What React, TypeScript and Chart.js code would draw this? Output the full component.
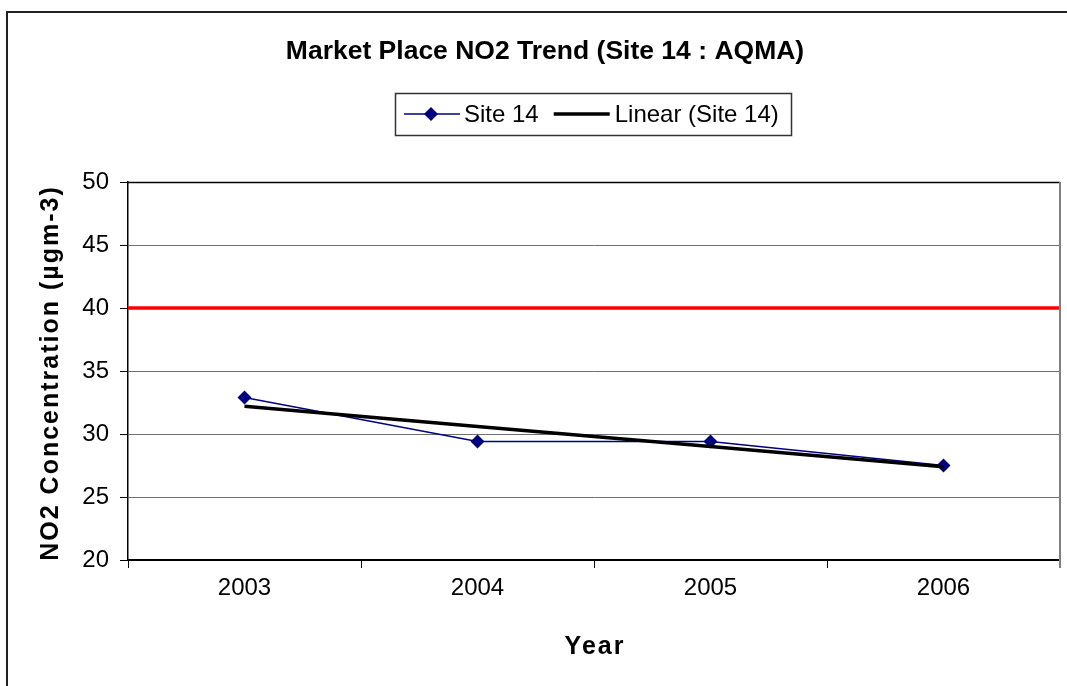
import React, { useEffect, useRef } from 'react';
import { Chart, registerables } from 'chart.js';

Chart.register(...registerables);

const years = ['2003', '2004', '2005', '2006'];
const site14 = [32.9, 29.4, 29.4, 27.5];
const linearTrend = [32.2, 30.6, 29.0, 27.4];
const limitValue = 40;
const yMin = 20;
const yMax = 50;
const yStep = 5;
const chartTitle = 'Market Place NO2 Trend (Site 14 : AQMA)';
const xTitle = 'Year';
const yTitle = 'NO2 Concentration (µgm-3)';
const legendLabels = ['Site 14', 'Linear (Site 14)'];

const FONT = '"Liberation Sans", Arial, sans-serif';
const NAVY = '#000080';

function drawDiamond(ctx: CanvasRenderingContext2D, x: number, y: number, r: number) {
  ctx.beginPath();
  ctx.moveTo(x, y - r);
  ctx.lineTo(x + r, y);
  ctx.lineTo(x, y + r);
  ctx.lineTo(x - r, y);
  ctx.closePath();
  ctx.fill();
}

const decorPlugin = {
  id: 'decor',
  beforeDraw(chart: any) {
    const ctx = chart.ctx as CanvasRenderingContext2D;
    ctx.save();
    ctx.fillStyle = '#ffffff';
    ctx.fillRect(0, 0, chart.width, chart.height);
    ctx.strokeStyle = '#222222';
    ctx.lineWidth = 2;
    ctx.strokeRect(7, 12, 1300, 1300);
    ctx.restore();
  },
  beforeDatasetsDraw(chart: any) {
    const ctx = chart.ctx as CanvasRenderingContext2D;
    const { left, right, top } = chart.chartArea;
    const y = chart.scales.y.getPixelForValue(limitValue);
    ctx.save();
    ctx.strokeStyle = '#ff0000';
    ctx.lineWidth = 3.5;
    ctx.beginPath();
    ctx.moveTo(left, y);
    ctx.lineTo(right, y);
    ctx.stroke();
    ctx.strokeStyle = '#000000';
    ctx.lineWidth = 1.5;
    ctx.beginPath();
    ctx.moveTo(left, top + 0.5);
    ctx.lineTo(right, top + 0.5);
    ctx.stroke();
    ctx.strokeStyle = '#808080';
    ctx.lineWidth = 2;
    ctx.beginPath();
    ctx.moveTo(right, top);
    ctx.lineTo(right, chart.chartArea.bottom + 8);
    ctx.stroke();
    ctx.restore();
  },
  afterDraw(chart: any) {
    const ctx = chart.ctx as CanvasRenderingContext2D;
    const { left, right, top, bottom } = chart.chartArea;
    ctx.save();
    ctx.fillStyle = '#000000';
    // Title
    ctx.font = `bold 26.5px ${FONT}`;
    ctx.textAlign = 'center';
    ctx.textBaseline = 'middle';
    ctx.fillText(chartTitle, 545, 52);

    // Axis titles
    (ctx as any).letterSpacing = '2px';
    ctx.font = `bold 25px ${FONT}`;
    ctx.fillText(xTitle, (left + right) / 2 + 1, 647);
    ctx.save();
    ctx.translate(51, (top + bottom) / 2 + 2);
    ctx.rotate(-Math.PI / 2);
    ctx.fillText(yTitle, 0, 0);
    ctx.restore();
    (ctx as any).letterSpacing = '0px';

    // Legend
    const lx = 395;
    const ly = 93;
    const lw = 396;
    const lh = 42;
    const cy = ly + lh / 2;
    ctx.strokeStyle = '#333333';
    ctx.lineWidth = 1.5;
    ctx.strokeRect(lx + 0.5, ly + 0.5, lw, lh);
    ctx.font = `24px ${FONT}`;
    ctx.textAlign = 'left';
    let x = lx + 9;
    ctx.strokeStyle = NAVY;
    ctx.lineWidth = 1.5;
    ctx.beginPath();
    ctx.moveTo(x, cy);
    ctx.lineTo(x + 56, cy);
    ctx.stroke();
    ctx.fillStyle = NAVY;
    drawDiamond(ctx, x + 27, cy, 7);
    x += 60;
    ctx.fillStyle = '#000000';
    ctx.fillText(legendLabels[0], x, cy + 1);
    x += ctx.measureText(legendLabels[0]).width + 15;
    ctx.strokeStyle = '#000000';
    ctx.lineWidth = 3.5;
    ctx.beginPath();
    ctx.moveTo(x, cy);
    ctx.lineTo(x + 56, cy);
    ctx.stroke();
    x += 61;
    ctx.fillText(legendLabels[1], x, cy + 1);
    ctx.restore();
  },
};

export default function App() {
  const canvasRef = useRef<HTMLCanvasElement | null>(null);

  useEffect(() => {
    const canvas = canvasRef.current;
    if (!canvas) return;
    const chart = new Chart(canvas, {
      type: 'line',
      data: {
        labels: years,
        datasets: [
          {
            label: legendLabels[1],
            data: linearTrend,
            borderColor: '#000000',
            borderWidth: 3.5,
            pointRadius: 0,
            tension: 0,
            fill: false,
          },
          {
            label: legendLabels[0],
            data: site14,
            borderColor: NAVY,
            backgroundColor: NAVY,
            borderWidth: 1.5,
            pointStyle: 'rectRot',
            pointRadius: 7,
            pointBorderWidth: 0,
            pointBackgroundColor: NAVY,
            tension: 0,
            fill: false,
          },
        ],
      },
      options: {
        responsive: false,
        animation: false,
        events: [],
        layout: { padding: { top: 182, right: 6, left: 0, bottom: 0 } },
        plugins: {
          legend: { display: false },
          title: { display: false },
          tooltip: { enabled: false },
        },
        scales: {
          x: {
            type: 'category',
            offset: true,
            grid: {
              display: true,
              offset: true,
              drawOnChartArea: false,
              drawTicks: true,
              tickLength: 8,
              tickColor: '#000000',
              tickWidth: 1,
            },
            border: { display: true, color: '#000000', width: 2 },
            ticks: {
              color: '#000000',
              font: { family: FONT, size: 24 },
              padding: 6,
              maxRotation: 0,
            },
            afterFit(scale: any) {
              scale.height = 126;
            },
          },
          y: {
            min: yMin,
            max: yMax,
            grid: {
              color: '#707070',
              lineWidth: 1,
              drawTicks: true,
              tickLength: 8,
              tickColor: '#000000',
            },
            border: { display: true, color: '#000000', width: 1.5 },
            ticks: {
              stepSize: yStep,
              color: '#000000',
              font: { family: FONT, size: 24 },
              padding: 11,
            },
            afterFit(scale: any) {
              scale.width = 128;
            },
          },
        },
      },
      plugins: [decorPlugin],
    });
    return () => chart.destroy();
  }, []);

  return (
    <div style={{ position: 'fixed', left: 0, top: 0, width: 1067, height: 686 }}>
      <canvas ref={canvasRef} width={1067} height={686} />
    </div>
  );
}
